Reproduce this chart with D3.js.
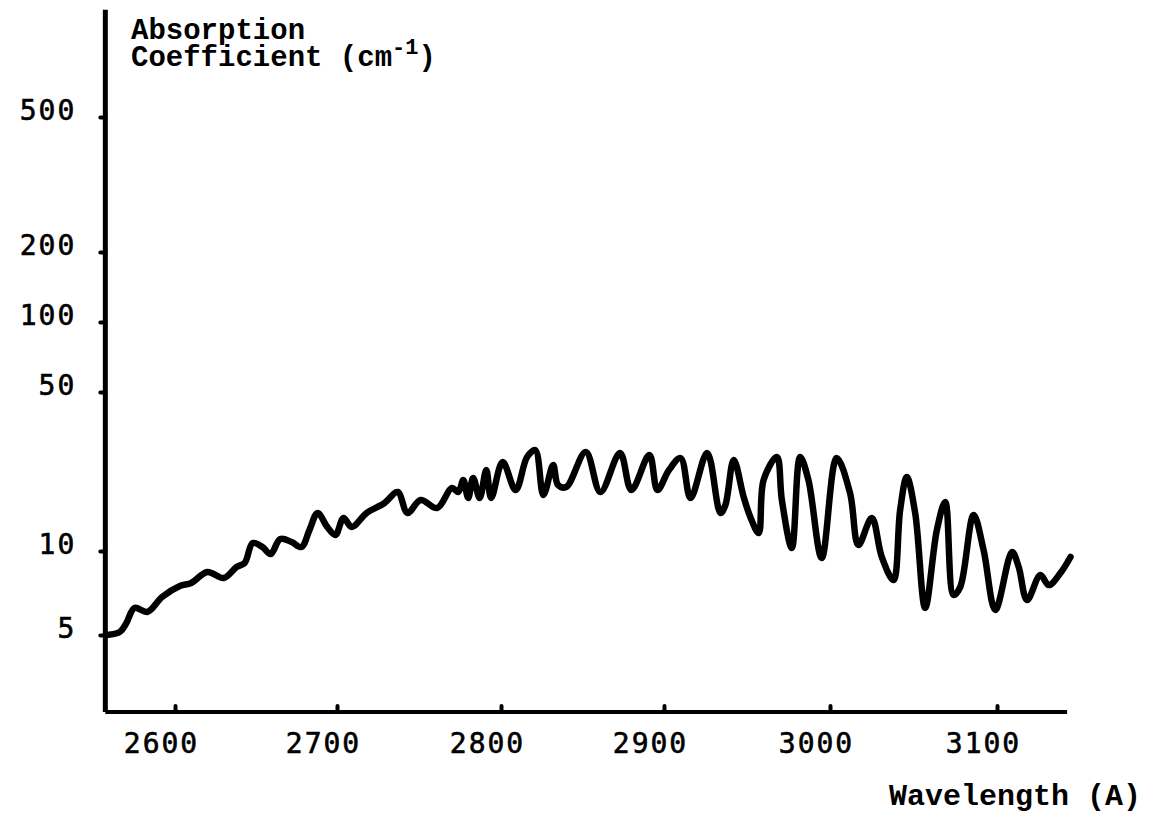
<!DOCTYPE html>
<html>
<head>
<meta charset="utf-8">
<script src="https://cdn.jsdelivr.net/npm/d3@7"></script>
<style>
  body { margin: 0; background: #fff; }
  svg { display: block; background: #fff; }
  .tick text { font-family: "DejaVu Sans Mono", monospace; font-size: 28px; letter-spacing: 2px; fill: #000; stroke: #000; stroke-width: 0.6px; }
  .tick line { stroke: #000; stroke-width: 4; stroke-linecap: round; }
  .label { font-family: "Liberation Mono", "Courier New", monospace; font-weight: bold; font-size: 29px; fill: #000; }
</style>
</head>
<body>
<svg id="chart" width="1155" height="815"></svg>
<script>
//
// Data
//

// wavelength in Angstrom
var wavelength = [
  2558, 2566, 2570, 2575, 2583, 2592, 2603, 2610, 2620, 2630,
  2638, 2643, 2648, 2654, 2659, 2665, 2672, 2678, 2683, 2688,
  2694, 2699, 2704, 2709, 2718, 2729, 2737, 2743, 2751, 2761,
  2770, 2774, 2777, 2780, 2783, 2787, 2791, 2794, 2801, 2809,
  2816, 2821, 2826, 2832, 2835, 2840, 2852, 2861, 2873, 2880,
  2891, 2896, 2903, 2910, 2916, 2926, 2934, 2937, 2942, 2948,
  2952, 2957, 2960, 2968, 2971, 2977, 2982, 2987, 2995, 3004,
  3012, 3017, 3025, 3031, 3038, 3042, 3046, 3051, 3057, 3064,
  3069, 3074, 3078, 3086, 3092, 3099, 3109, 3113, 3118, 3126,
  3131, 3138, 3144
]
// absorption coefficient in cm^-1
var absorption = [
  5.00, 5.13, 5.52, 6.25, 6.05, 6.84, 7.49, 7.68, 8.41, 8.00,
  8.76, 9.06, 10.84, 10.41, 9.75, 11.29, 10.95, 10.41, 12.37, 14.69,
  12.75, 11.76, 13.97, 12.75, 14.69, 16.26, 18.17, 14.69, 16.76, 15.45,
  18.92, 18.17, 20.52, 17.10, 20.94, 17.10, 22.70, 17.10, 24.62, 18.54,
  25.90, 27.80, 17.63, 23.88, 19.50, 19.11, 27.24, 18.17, 26.97, 18.54,
  26.42, 18.54, 22.70, 25.63, 17.10, 26.97, 14.69, 15.93, 25.12, 17.27,
  14.11, 12.00, 20.52, 25.90, 16.76, 10.31, 25.90, 20.52, 9.44, 25.63,
  17.99, 10.62, 13.97, 9.52, 7.87, 15.14, 21.15, 14.69, 6.25, 12.37,
  16.42, 6.96, 7.43, 14.40, 10.08, 6.15, 9.92, 8.76, 6.67, 8.20,
  7.55, 8.34, 9.52
]

var xTicks = [2600, 2700, 2800, 2900, 3000, 3100]
var yTicks = [5, 10, 50, 100, 200, 500]
// where the drawn axis lines stop
var xAxisEnds = [2557, 3142]
var yAxisEnds = [2.65, 1035]

//
// Scales (the original axes are hand ruled, so tick spacing is uneven)
//

var svg = d3.select('#chart')

var x = d3.scaleLinear()
  .domain(xTicks)
  .range([175, 337, 501, 664, 830, 997])

var y = d3.scaleLog()
  .domain(yTicks)
  .range([635, 551, 392, 322, 252, 117])

var x0 = x(xAxisEnds[0]), x1 = x(xAxisEnds[1])
var y0 = y(yAxisEnds[0]), y1 = y(yAxisEnds[1])

//
// Axes
//

svg.append('line')
  .attr('x1', x0).attr('x2', x0)
  .attr('y1', y1).attr('y2', y0)
  .attr('stroke', '#000').attr('stroke-width', 5)

svg.append('line')
  .attr('x1', x0).attr('x2', x1)
  .attr('y1', y0).attr('y2', y0)
  .attr('stroke', '#000').attr('stroke-width', 4)

var yAxis = svg.append('g')
  .attr('transform', 'translate(' + x0 + ',0)')
  .call(d3.axisLeft(y)
    .tickValues(yTicks)
    .tickFormat(d3.format('d'))
    .tickSizeInner(5)
    .tickSizeOuter(0)
    .tickPadding(24))
yAxis.select('.domain').remove()
yAxis.selectAll('.tick text').attr('dy', '0.1em')

var xAxis = svg.append('g')
  .attr('transform', 'translate(0,' + y0 + ')')
  .call(d3.axisBottom(x)
    .tickValues(xTicks)
    .tickFormat(d3.format('d'))
    .tickSizeInner(-6)
    .tickSizeOuter(0)
    .tickPadding(21))
xAxis.select('.domain').remove()
xAxis.selectAll('.tick text').attr('dx', -14)

//
// Curve
//

var points = wavelength.map(function(w, i) {
  return { w: w, a: absorption[i] }
})

var line = d3.line()
  .x(function(d) { return x(d.w) })
  .y(function(d) { return y(d.a) })
  .curve(d3.curveCatmullRom.alpha(0.5))

svg.append('path')
  .datum(points)
  .attr('d', line)
  .attr('fill', 'none')
  .attr('stroke', '#000')
  .attr('stroke-width', 6.5)
  .attr('stroke-linejoin', 'round')
  .attr('stroke-linecap', 'round')

//
// Labels
//

var title = svg.append('text')
  .attr('class', 'label')
  .attr('y', 39)
title.append('tspan').attr('x', 131).text('Absorption')
title.append('tspan').attr('x', 131).attr('dy', 27).text('Coefficient (cm')
title.append('tspan').attr('dy', -12).style('font-size', '22px').text('-1')
title.append('tspan').attr('dy', 12).text(')')

svg.append('text')
  .attr('class', 'label')
  .attr('x', 1141)
  .attr('y', 805)
  .attr('text-anchor', 'end')
  .style('font-size', '30px')
  .text('Wavelength (A)')
</script>
</body>
</html>
